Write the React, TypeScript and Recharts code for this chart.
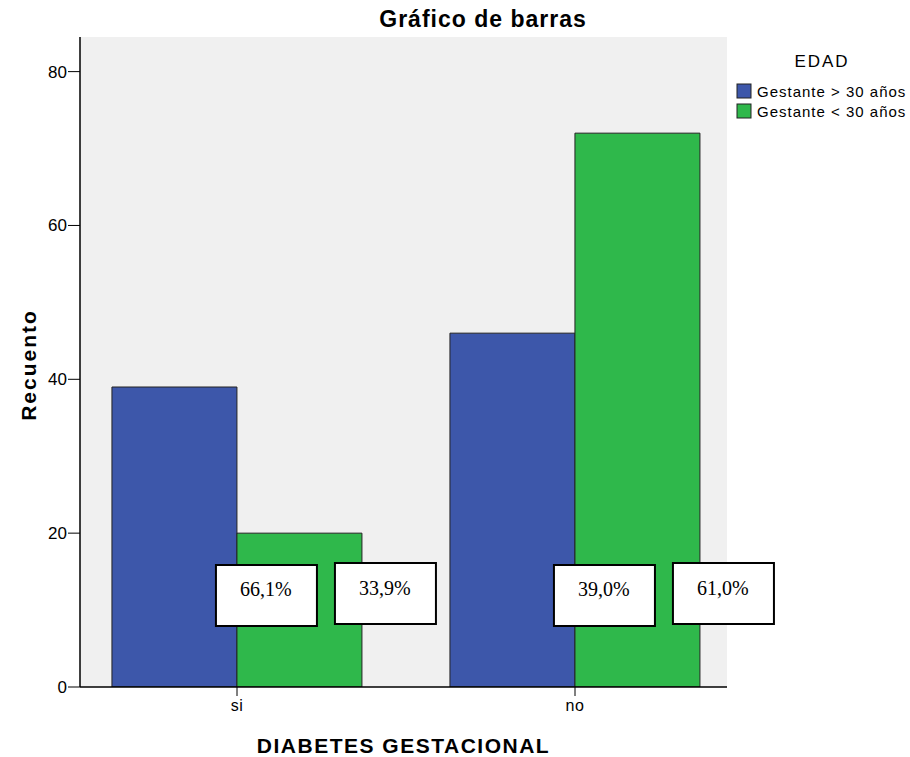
import { BarChart, Bar, XAxis, YAxis, CartesianGrid, LabelList } from "recharts";

const categories = ["si", "no"];
const mayor30 = [39, 46];
const menor30 = [20, 72];
const pctMayor = ["66,1%", "39,0%"];
const pctMenor = ["33,9%", "61,0%"];
const yTicks = [0, 20, 40, 60, 80];

const series = [
  { key: "mayor", name: "Gestante > 30 años", color: "#3d57aa" },
  { key: "menor", name: "Gestante < 30 años", color: "#2fb84b" },
];

const data = categories.map((c, i) => ({
  cat: c,
  mayor: mayor30[i],
  menor: menor30[i],
}));

const FONT = "'Liberation Sans', Arial, sans-serif";

// percentage boxes, drawn from the green bar so they sit on top of both bars
function PctBoxes(props: any) {
  const { x, y, width, height, index } = props;
  const base = y + height;
  const boxes = [
    { left: x - width + 104, top: base - 122, text: pctMayor[index] },
    { left: x + 98, top: base - 124, text: pctMenor[index] },
  ];
  return (
    <g>
      {boxes.map((b, i) => (
        <g key={i}>
          <rect
            x={b.left}
            y={b.top}
            width={101}
            height={61}
            fill="#fff"
            stroke="#000"
            strokeWidth={2}
          />
          <text
            x={b.left + 50}
            y={b.top + (i === 0 ? 31 : 32)}
            textAnchor="middle"
            fontFamily="'Liberation Serif', 'Times New Roman', serif"
            fontSize={20}
            fill="#000"
          >
            {b.text}
          </text>
        </g>
      ))}
    </g>
  );
}

export default function App() {
  return (
    <div style={{ position: "absolute", left: 0, top: 0, background: "#fff" }}>
      <BarChart
        width={910}
        height={757}
        data={data}
        margin={{ top: 37, right: 183, bottom: 0, left: 0 }}
        barCategoryGap="13%"
        barGap={0}
      >
        <CartesianGrid fill="#f0f0f0" horizontal={false} vertical={false} />
        <XAxis
          dataKey="cat"
          height={70}
          padding={{ left: -12, right: -17 }}
          axisLine={{ stroke: "#000", strokeWidth: 1.5 }}
          tickLine={{ stroke: "#000" }}
          tickSize={9}
          tickMargin={4}
          tick={{ fill: "#000", fontSize: 16, fontFamily: FONT, letterSpacing: 0.5 }}
          label={{
            value: "DIABETES GESTACIONAL",
            position: "insideBottom",
            offset: 4,
            fill: "#000",
            fontSize: 21,
            fontWeight: "bold",
            fontFamily: FONT,
            letterSpacing: 1.5,
          }}
        />
        <XAxis
          xAxisId="top"
          orientation="top"
          dataKey="cat"
          height={0}
          tick={false}
          tickLine={false}
          axisLine={{ stroke: "#666", strokeWidth: 2 }}
        />
        <YAxis
          width={80}
          domain={[0, 84.5]}
          ticks={yTicks}
          allowDataOverflow
          axisLine={{ stroke: "#000", strokeWidth: 1.5 }}
          tickLine={{ stroke: "#000" }}
          tickSize={12}
          tickMargin={1}
          tick={{ fill: "#000", fontSize: 17, fontFamily: FONT }}
        />
        <YAxis
          yAxisId="right"
          orientation="right"
          width={0}
          domain={[0, 84.5]}
          tick={false}
          tickLine={false}
          axisLine={{ stroke: "#888", strokeWidth: 1.5 }}
        />
        <Bar
          dataKey="mayor"
          name={series[0].name}
          fill={series[0].color}
          stroke="#222"
          strokeWidth={1}
          isAnimationActive={false}
        />
        <Bar
          dataKey="menor"
          name={series[1].name}
          fill={series[1].color}
          stroke="#222"
          strokeWidth={1}
          isAnimationActive={false}
        >
          <LabelList dataKey="menor" content={PctBoxes} />
        </Bar>

        <text
          x={483}
          y={27}
          textAnchor="middle"
          fontFamily={FONT}
          fontSize={23}
          fontWeight="bold"
          letterSpacing={1}
          fill="#000"
        >
          Gráfico de barras
        </text>
        <text
          transform="translate(36,365) rotate(-90)"
          textAnchor="middle"
          fontFamily={FONT}
          fontSize={21}
          fontWeight="bold"
          letterSpacing={2}
          fill="#000"
        >
          Recuento
        </text>
        <text
          x={822}
          y={67}
          textAnchor="middle"
          fontFamily={FONT}
          fontSize={17}
          letterSpacing={2}
          fill="#000"
        >
          EDAD
        </text>
        {series.map((s, i) => (
          <g key={s.key}>
            <rect
              x={737}
              y={84 + i * 20}
              width={14}
              height={14}
              fill={s.color}
              stroke="#222"
              strokeWidth={1}
            />
            <text
              x={757}
              y={97 + i * 20}
              fontFamily={FONT}
              fontSize={15}
              letterSpacing={1}
              fill="#000"
            >
              {s.name}
            </text>
          </g>
        ))}
      </BarChart>
    </div>
  );
}
